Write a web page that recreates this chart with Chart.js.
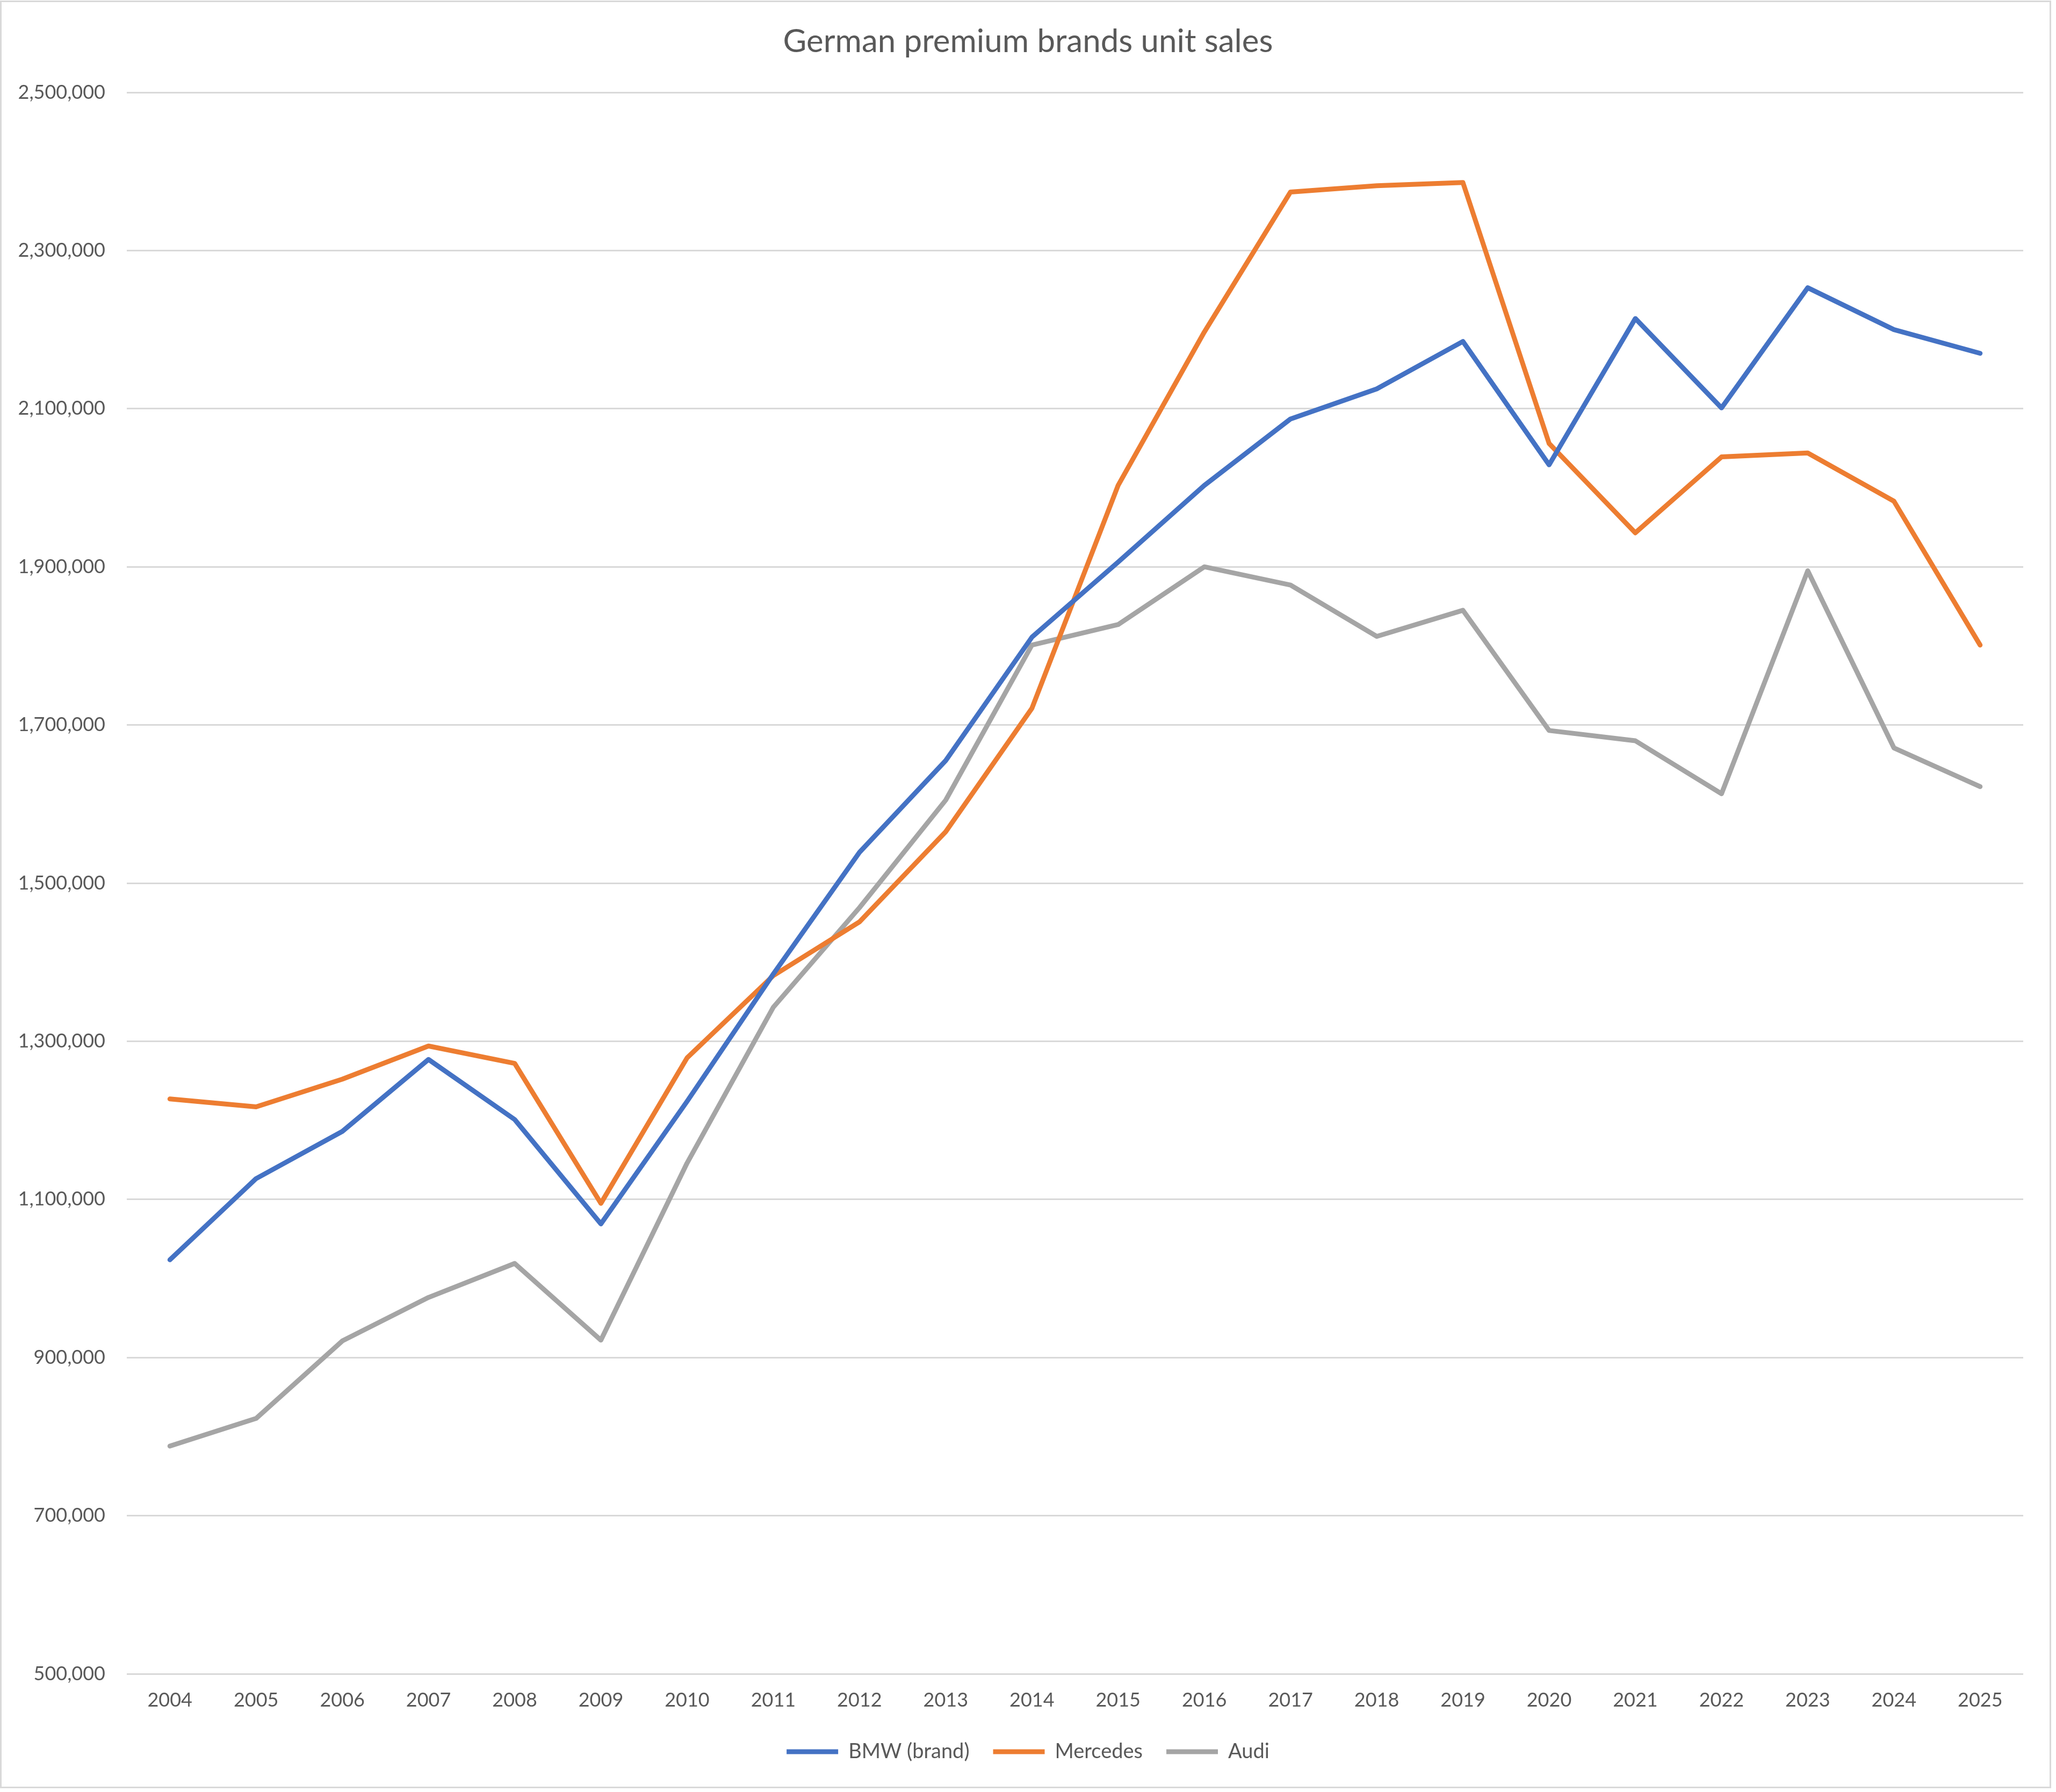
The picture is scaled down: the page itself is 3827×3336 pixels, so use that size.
<!DOCTYPE html>
<html>
<head>
<meta charset="utf-8">
<title>German premium brands unit sales</title>
<script src="https://cdn.jsdelivr.net/npm/chart.js@4"></script>
<style>
    html, body { margin: 0; padding: 0; background: #ffffff; }
    #wrap { width: 3827px; height: 3336px; position: relative; }
</style>
</head>
<body>
<div id="wrap"><canvas id="salesChart"></canvas></div>
<script>
var years = ["2004", "2005", "2006", "2007", "2008", "2009", "2010", "2011", "2012", "2013", "2014",
             "2015", "2016", "2017", "2018", "2019", "2020", "2021", "2022", "2023", "2024", "2025"];

var bmw_sales = [1023600, 1126300, 1186000, 1277000, 1201000, 1069000, 1224000, 1385000, 1539000, 1655000, 1811000,
                 1906000, 2003000, 2087000, 2125000, 2185000, 2029000, 2214000, 2101000, 2253000, 2200000, 2170000];

var mercedes_sales = [1227000, 1217000, 1252000, 1294000, 1272000, 1095000, 1279000, 1383000, 1451000, 1565000, 1721000,
                      2003000, 2197000, 2374000, 2382000, 2386000, 2056000, 1943000, 2039000, 2044000, 1983000, 1801000];

var audi_sales = [788000, 823000, 921000, 976000, 1019000, 922000, 1146000, 1343000, 1469000, 1605000, 1801000,
                  1827000, 1900000, 1877000, 1812000, 1845000, 1693000, 1680000, 1613000, 1895000, 1671000, 1622000];

var series_names = ["BMW (brand)", "Mercedes", "Audi"];
var series_colors = ["#4472C4", "#ED7D31", "#A5A5A5"];

var y_min = 500000;
var y_max = 2500000;
var y_step = 200000;

var text_color = "#595959";
var grid_color = "#d9d9d9";

// white background plus the thin grey frame around the whole chart
var framePlugin = {
    id: "frame",
    beforeDraw: function(chart) {
        var ctx = chart.ctx;
        ctx.save();
        ctx.fillStyle = "#ffffff";
        ctx.fillRect(0, 0, chart.width, chart.height);
        ctx.strokeStyle = grid_color;
        ctx.lineWidth = 3;
        ctx.strokeRect(1.5, 2.5, 3815, 3325);
        ctx.restore();
    }
};

function make_dataset(i, values) {
    return {
        label: series_names[i],
        data: values,
        borderColor: series_colors[i],
        backgroundColor: series_colors[i],
        borderWidth: 9,
        borderCapStyle: "round",
        borderJoinStyle: "round",
        pointRadius: 0,
        pointHoverRadius: 0,
        tension: 0,
        fill: false
    };
}

function pageLoad() {
    Chart.defaults.font.family = "Lato, 'Open Sans', sans-serif";
    Chart.defaults.color = text_color;

    var ctx = document.getElementById("salesChart");
    var salesChart = new Chart(ctx, {
        type: "line",
        data: {
            labels: years,
            datasets: [
                make_dataset(0, bmw_sales),
                make_dataset(1, mercedes_sales),
                make_dataset(2, audi_sales)
            ]
        },
        options: {
            responsive: true,
            maintainAspectRatio: false,
            animation: false,
            events: [],
            layout: {
                padding: { left: 0, right: 0, top: 0, bottom: 46 }
            },
            scales: {
                x: {
                    offset: true,
                    grid: { display: false, drawTicks: false },
                    border: { display: false },
                    ticks: {
                        padding: 28,
                        maxRotation: 0,
                        autoSkip: false,
                        color: text_color,
                        font: { size: 36 }
                    },
                    afterFit: function(scale) { scale.height = 82; }
                },
                y: {
                    min: y_min,
                    max: y_max,
                    grid: { color: grid_color, lineWidth: 3, drawTicks: false },
                    border: { display: false },
                    ticks: {
                        stepSize: y_step,
                        padding: 40,
                        color: text_color,
                        font: { size: 36 },
                        callback: function(value) { return value.toLocaleString("en-US"); }
                    },
                    afterFit: function(scale) { scale.width = 236; }
                },
                // empty right-hand margin, keeps title and legend centred on the whole canvas
                yRight: {
                    position: "right",
                    min: y_min,
                    max: y_max,
                    grid: { display: false, drawTicks: false },
                    border: { display: false },
                    ticks: { display: false },
                    afterFit: function(scale) { scale.width = 61; }
                }
            },
            plugins: {
                title: {
                    display: true,
                    text: "German premium brands unit sales",
                    color: text_color,
                    font: { size: 60, weight: "normal" },
                    padding: { top: 42, bottom: 58 }
                },
                legend: {
                    position: "bottom",
                    labels: {
                        usePointStyle: true,
                        pointStyle: "line",
                        pointStyleWidth: 96,
                        padding: 44,
                        color: text_color,
                        font: { size: 38 }
                    }
                },
                tooltip: { enabled: false }
            }
        },
        plugins: [framePlugin]
    });
}

window.onload = pageLoad;
</script>
</body>
</html>
